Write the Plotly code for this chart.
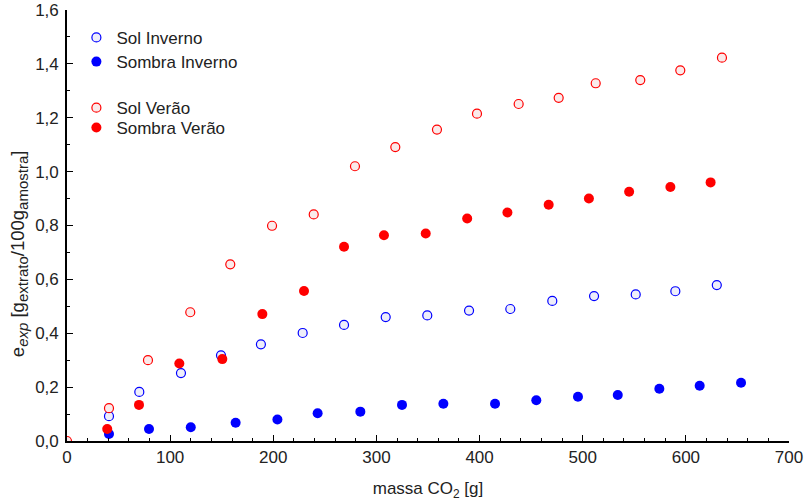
import plotly.graph_objects as go

# Data
sol_inv_x = [40.7, 70.1, 110.5, 149.3, 188, 228.5, 268.6, 309, 349.3, 389.8, 429.8, 470.5, 511, 551.4, 589.8, 630]
sol_inv_y = [0.092, 0.182, 0.252, 0.318, 0.359, 0.401, 0.431, 0.460, 0.466, 0.484, 0.490, 0.520, 0.538, 0.544, 0.556, 0.579]

som_inv_x = [40.7, 79.5, 120, 163.5, 204, 243, 284.4, 324.8, 364.9, 415, 455, 495.4, 534, 574.3, 613.4, 653.5]
som_inv_y = [0.026, 0.0445, 0.051, 0.068, 0.080, 0.103, 0.109, 0.134, 0.138, 0.138, 0.151, 0.164, 0.171, 0.194, 0.205, 0.216]

sol_ver_x = [0, 40.7, 78.5, 119.5, 158.3, 198.8, 239.2, 279.2, 318.3, 358.7, 397.5, 437.9, 476.7, 512.6, 555.8, 594.6, 635]
sol_ver_y = [0.0, 0.122, 0.300, 0.478, 0.656, 0.799, 0.841, 1.020, 1.091, 1.156, 1.215, 1.251, 1.274, 1.328, 1.340, 1.376, 1.423]

som_ver_x = [39, 69.8, 108.9, 150.6, 189.4, 229.8, 268.6, 307.3, 347.8, 388, 427, 467, 506, 545, 585, 624]
som_ver_y = [0.0445, 0.134, 0.288, 0.304, 0.471, 0.557, 0.721, 0.764, 0.770, 0.826, 0.848, 0.877, 0.900, 0.925, 0.943, 0.960]

X_RANGE = [0, 700]
Y_RANGE = [0, 1.6]

BLUE = "#0000ff"
RED = "#ff0000"
FONT = "Liberation Sans, Arial, sans-serif"
TXT = "#222222"

fig = go.Figure()

def open_marker(color, fill):
    return dict(symbol="circle", size=9, color=fill, line=dict(color=color, width=1.2))

def filled_marker(color):
    return dict(symbol="circle", size=10, color=color, line=dict(color=color, width=0))

fig.add_trace(go.Scatter(x=sol_inv_x, y=sol_inv_y, mode="markers", name="Sol Inverno",
                         marker=open_marker(BLUE, "#eeeefa"), legend="legend"))
fig.add_trace(go.Scatter(x=som_inv_x, y=som_inv_y, mode="markers", name="Sombra Inverno",
                         marker=filled_marker(BLUE), legend="legend2"))
fig.add_trace(go.Scatter(x=sol_ver_x, y=sol_ver_y, mode="markers", name="Sol Verão",
                         marker=open_marker(RED, "#faeaea"), legend="legend3"))
fig.add_trace(go.Scatter(x=som_ver_x, y=som_ver_y, mode="markers", name="Sombra Verão",
                         marker=filled_marker(RED), legend="legend4"))

axis_common = dict(
    showline=True, linecolor="black", linewidth=1.6,
    ticks="inside", ticklen=6, tickwidth=1.2, tickcolor="black",
    showgrid=False, zeroline=False, automargin=False,
    tickfont=dict(family=FONT, size=17, color=TXT),
)

def leg(ytop):
    return dict(x=0.013, y=ytop, xanchor="left", yanchor="top", bgcolor="rgba(0,0,0,0)",
                font=dict(family=FONT, size=17, color=TXT), itemwidth=30)

SUB = "<sub><span style='font-size:15px'>{}</span></sub>"
ytitle = ("e" + "<sub><i><span style='font-size:15px'>exp</span></i></sub>"
          + " [g" + SUB.format("extrato") + "/100g" + SUB.format("amostra") + "]")

fig.update_layout(
    width=809, height=502,
    margin=dict(l=67, r=20, t=10, b=61),
    paper_bgcolor="white", plot_bgcolor="white",
    separators=",.",
    font=dict(family=FONT, size=17, color=TXT),
    xaxis=dict(range=X_RANGE, dtick=100, tickformat="d",
               minor=dict(dtick=20, ticks="inside", ticklen=3, tickcolor="black"),
               title=dict(text="massa CO<sub>2</sub> [g]", font=dict(family=FONT, size=17), standoff=16),
               **axis_common),
    yaxis=dict(range=Y_RANGE, dtick=0.2, tickformat=".1f", ticklabelstandoff=3,
               minor=dict(dtick=0.1, ticks="inside", ticklen=3, tickcolor="black"),
               **axis_common),
    xaxis2=dict(range=X_RANGE, dtick=100, overlaying="x", side="top", showticklabels=False,
                minor=dict(dtick=20, ticks="inside", ticklen=3, tickcolor="black"),
                **axis_common),
    yaxis2=dict(range=Y_RANGE, dtick=0.2, overlaying="y", side="right", showticklabels=False,
                minor=dict(dtick=0.1, ticks="inside", ticklen=3, tickcolor="black"),
                **axis_common),
    legend=leg(0.977),
    legend2=leg(0.921),
    legend3=leg(0.814),
    legend4=leg(0.768),
    showlegend=True,
    annotations=[dict(text=ytitle, textangle=-90, xref="paper", yref="paper",
                      x=-0.067, y=0.435, xanchor="center", yanchor="middle",
                      showarrow=False, font=dict(family=FONT, size=18.5, color=TXT))],
)

fig.write_html("out.html")
